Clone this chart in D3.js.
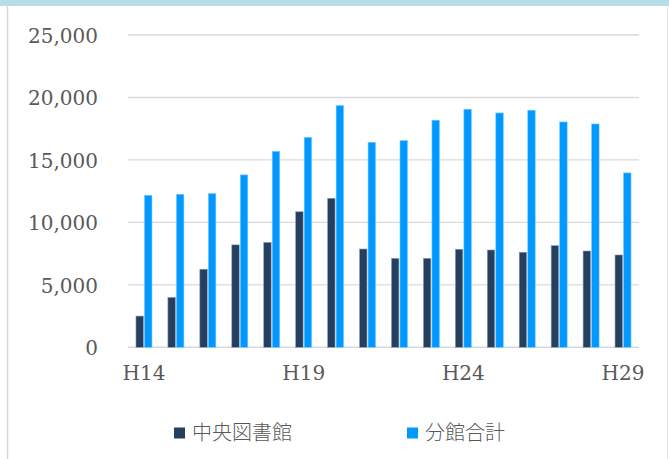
<!DOCTYPE html>
<html>
<head>
<meta charset="utf-8">
<script src="https://cdn.jsdelivr.net/npm/d3@7"></script>
<style>
  html, body { margin: 0; padding: 0; background: #fff; }
  svg { display: block; }
</style>
</head>
<body>
<script>
// Fiscal years (Heisei era)
const years = ["H14","H15","H16","H17","H18","H19","H20","H21","H22","H23","H24","H25","H26","H27","H28","H29"];
// Central library
const central = [2500, 4000, 6250, 8200, 8400, 10850, 11930, 7870, 7125, 7125, 7850, 7790, 7610, 8140, 7710, 7390];
// Branch libraries, total
const branches = [12170, 12250, 12300, 13800, 15690, 16810, 19350, 16410, 16540, 18180, 19060, 18760, 18980, 18040, 17880, 13960];
const seriesNames = ["中央図書館", "分館合計"];
const seriesColors = ["#253f5f", "#0099ff"];
const yTicks = [0, 5000, 10000, 15000, 20000, 25000];
const xLabelYears = ["H14", "H19", "H24", "H29"];

const W = 669, H = 459;
const plot = { left: 128, right: 639, top: 35, bottom: 347.3 };

const svg = d3.select("body").append("svg").attr("width", W).attr("height", H);

// Frame: light blue top band, thin gray side borders
svg.append("rect").attr("x", 0).attr("y", 0).attr("width", W).attr("height", 6).attr("fill", "#b7dde8");
svg.append("line").attr("x1", 7.5).attr("x2", 7.5).attr("y1", 6).attr("y2", H).attr("stroke", "#d9d9d9").attr("stroke-width", 1.5);
svg.append("line").attr("x1", 667.5).attr("x2", 667.5).attr("y1", 6).attr("y2", H).attr("stroke", "#e3e3e3").attr("stroke-width", 1);

const x = d3.scaleBand().domain(years).range([plot.left, plot.right]).paddingInner(0).paddingOuter(0);
const y = d3.scaleLinear().domain([0, 25000]).range([plot.bottom, plot.top]);

// Gridlines
svg.append("g").selectAll("line").data(yTicks).join("line")
  .attr("x1", plot.left).attr("x2", plot.right)
  .attr("y1", d => y(d)).attr("y2", d => y(d))
  .attr("stroke", "#d9d9d9").attr("stroke-width", 1.4);

// Y axis labels
const yAxis = d3.axisLeft(y).tickValues(yTicks).tickSize(0).tickPadding(30)
  .tickFormat(d3.format(","));
const gy = svg.append("g").attr("transform", `translate(${plot.left},0)`).call(yAxis);
gy.select(".domain").remove();
gy.selectAll("text").attr("font-family", "'DejaVu Serif', serif").attr("font-size", 20)
  .attr("fill", "#595959").attr("dy", "0.36em");

// Bars
const inner = d3.scaleBand().domain([0, 1]).range([0, 16]).paddingInner(0.125);
const offset = (x.bandwidth() - 16) / 2;
const data = [central, branches];
data.forEach((vals, si) => {
  svg.append("g").selectAll("rect").data(vals).join("rect")
    .attr("x", (d, i) => x(years[i]) + offset + inner(si))
    .attr("width", inner.bandwidth())
    .attr("y", d => y(d))
    .attr("height", d => y(0) - y(d))
    .attr("fill", seriesColors[si])
    .attr("stroke", si === 0 ? "#8fa0b5" : "#7cc6ff")
    .attr("stroke-width", 0.6);
});

// X axis labels (every fifth year)
const xAxis = d3.axisBottom(x).tickValues(xLabelYears).tickSize(0).tickPadding(19);
const gx = svg.append("g").attr("transform", `translate(0,${plot.bottom})`).call(xAxis);
gx.select(".domain").remove();
gx.selectAll("text").attr("font-family", "'DejaVu Serif', serif").attr("font-size", 20)
  .attr("fill", "#595959");

// Legend
const legendX = [174, 407];
const lg = svg.append("g");
seriesNames.forEach((name, i) => {
  lg.append("rect").attr("x", legendX[i]).attr("y", 427.5).attr("width", 11).attr("height", 11)
    .attr("fill", seriesColors[i]);
  lg.append("text").attr("x", legendX[i] + 18).attr("y", 440)
    .attr("font-family", "'Noto Sans CJK JP', sans-serif").attr("font-weight", 300)
    .attr("font-size", 20).attr("fill", "#595959").text(name);
});
</script>
</body>
</html>
